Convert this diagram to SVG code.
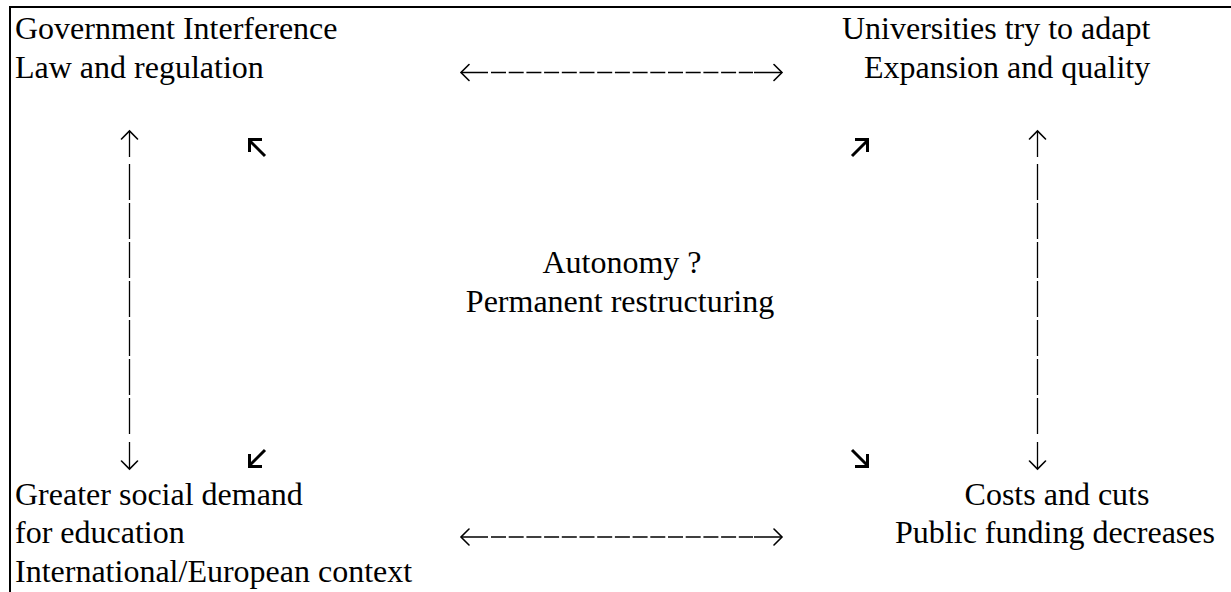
<svg xmlns="http://www.w3.org/2000/svg" width="1231" height="592" viewBox="0 0 1231 592" font-family="Liberation Serif, serif">
<style>
text{font-size:32px;fill:#000}
.ln{stroke:#000;stroke-width:1.3;fill:none}
.dh{stroke:#000;stroke-width:1.3;fill:none;stroke-dasharray:15 2.7}
.dv{stroke:#000;stroke-width:1.3;fill:none;stroke-dasharray:36 3}
.hd{stroke:#000;stroke-width:1.6;fill:none;stroke-linecap:round;stroke-linejoin:miter}
.dg{stroke:#000;stroke-width:3;fill:none;stroke-linecap:butt;stroke-linejoin:miter}
</style>
<rect width="1231" height="592" fill="#fff"/>
<g id="frame">
<path d="M10 592 V7 H1231" stroke="#000" stroke-width="2" fill="none"/>
</g>
<g id="node-government" font-family="Liberation Serif, serif">
<text x="15" y="39">Government Interference</text>
<text x="15" y="78">Law and regulation</text>
</g>
<g id="node-universities" font-family="Liberation Serif, serif">
<text x="842" y="39">Universities try to adapt</text>
<text x="864" y="78">Expansion and quality</text>
</g>
<g id="node-center" font-family="Liberation Serif, serif">
<text x="622" y="273" text-anchor="middle">Autonomy ?</text>
<text x="620" y="312" text-anchor="middle">Permanent restructuring</text>
</g>
<g id="node-demand" font-family="Liberation Serif, serif">
<text x="15" y="505">Greater social demand</text>
<text x="15" y="543">for education</text>
<text x="15" y="582">International/European context</text>
</g>
<g id="node-costs" font-family="Liberation Serif, serif">
<text x="1057" y="505" text-anchor="middle">Costs and cuts</text>
<text x="1055" y="543" text-anchor="middle">Public funding decreases</text>
</g>
<g id="connectors">
<path class="ln" d="M461 72.5 H488 M754 72.5 H782"/>
<path class="dh" d="M491 72.5 H753"/>
<path class="hd" d="M469 64.5 L461 72.5 L469 80.5 M774 64.5 L782 72.5 L774 80.5"/>
<path class="ln" d="M461 537 H488 M754 537 H782"/>
<path class="dh" d="M491 537 H753"/>
<path class="hd" d="M469 529 L461 537 L469 545 M774 529 L782 537 L774 545"/>
<path class="ln" d="M129.5 131 V157 M129.5 442 V469"/>
<path class="dv" d="M129.5 164 V435"/>
<path class="hd" d="M121.5 139 L129.5 131 L137.5 139 M121.5 461 L129.5 469 L137.5 461"/>
<path class="ln" d="M1037.5 131 V157 M1037.5 442 V469"/>
<path class="dv" d="M1037.5 164 V435"/>
<path class="hd" d="M1029.5 139 L1037.5 131 L1045.5 139 M1029.5 461 L1037.5 469 L1045.5 461"/>
<path class="dg" d="M265 156 L249 140 M249.5 152 V139.5 H262"/>
<path class="dg" d="M852 156 L868 140 M867.5 152 V139.5 H855"/>
<path class="dg" d="M265 450 L249 466 M249.5 454 V466.5 H262"/>
<path class="dg" d="M852 450 L868 466 M867.5 454 V466.5 H855"/>
</g>
</svg>
